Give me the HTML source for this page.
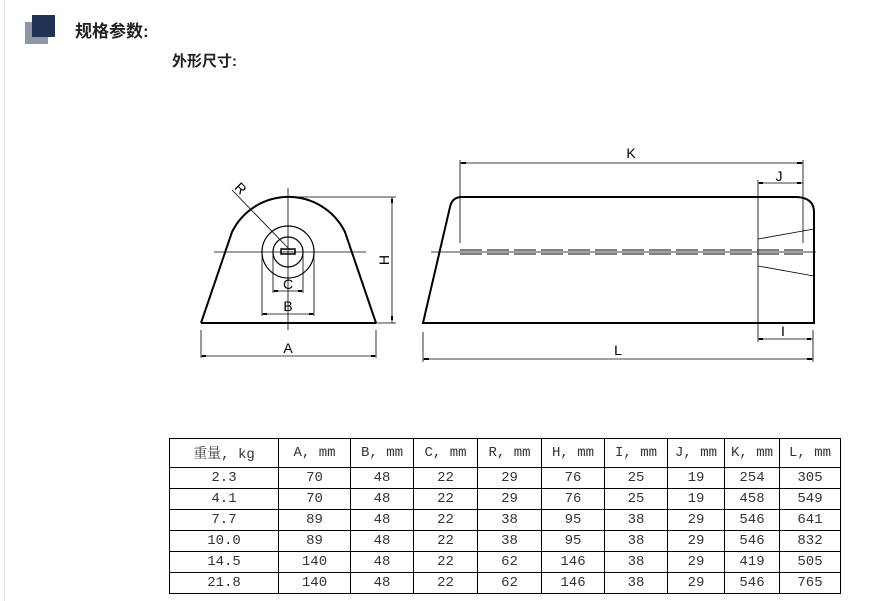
<!DOCTYPE html>
<html><head><meta charset="utf-8"><style>
body{margin:0;background:#fff;width:869px;height:601px;position:relative;overflow:hidden;font-family:"Liberation Sans","Noto Sans CJK SC",sans-serif}
.t{position:absolute;color:#222}
table{position:absolute;left:169px;top:438px;border-collapse:collapse;font-family:"Liberation Mono","Noto Serif CJK SC",monospace;font-size:14px;color:#333}
td{border:1px solid #000;text-align:center;padding:0;height:20px}
tr.h td{height:28px}
</style></head><body>
<div style="position:absolute;left:4px;top:0;width:1px;height:601px;background:#e6e6e6"></div>
<div style="position:absolute;left:25px;top:22px;width:23px;height:22px;background:#8d97a8"></div>
<div style="position:absolute;left:32px;top:15px;width:23px;height:22px;background:#1f3355"></div>
<div class="t" style="left:75px;top:17px;font-size:17px;font-weight:bold">规格参数:</div>
<div class="t" style="left:172px;top:50px;font-size:15px;font-weight:bold">外形尺寸:</div>
<svg width="869" height="601" style="position:absolute;left:0;top:0" font-family="Liberation Sans" font-size="14" fill="none" stroke="#000">
<g stroke-width="2">
<line x1="201" y1="323" x2="376" y2="323"/>
<path d="M201 323 L232 232 A63 63 0 0 1 345 232 L376 323"/>
</g>
<g stroke-width="1.2">
<circle cx="288" cy="252" r="26"/>
<circle cx="288" cy="252" r="15"/>
<rect x="281" y="249" width="14" height="5" stroke-width="1.5"/>
</g>
<g stroke-width="0.8">
<line x1="214" y1="252" x2="366" y2="252"/>
<line x1="288" y1="188" x2="288" y2="330"/>
<line x1="232" y1="190" x2="290" y2="250"/>
<line x1="273" y1="252" x2="273" y2="293"/><line x1="303" y1="252" x2="303" y2="293"/>
<line x1="273" y1="291" x2="303" y2="291"/>
<line x1="262" y1="255" x2="262" y2="316"/><line x1="314" y1="255" x2="314" y2="316"/>
<line x1="262" y1="314" x2="314" y2="314"/>
<line x1="288" y1="197" x2="396" y2="197"/><line x1="376" y1="323" x2="396" y2="323"/>
<line x1="392" y1="197" x2="392" y2="323"/>
<line x1="201" y1="330" x2="201" y2="358"/><line x1="376" y1="330" x2="376" y2="358"/>
<line x1="201" y1="356" x2="376" y2="356"/>
<line x1="460" y1="163" x2="803" y2="163"/>
<line x1="460" y1="160" x2="460" y2="243"/><line x1="803" y1="160" x2="803" y2="243"/>
<line x1="758" y1="183" x2="803" y2="183"/>
<line x1="758" y1="180" x2="758" y2="342"/>
<line x1="758" y1="339" x2="813" y2="339"/>
<line x1="423" y1="332" x2="423" y2="362"/><line x1="813" y1="330" x2="813" y2="362"/>
<line x1="423" y1="359" x2="813" y2="359"/>
<line x1="431" y1="252" x2="816" y2="252"/>
<line x1="758" y1="239" x2="814" y2="229"/><line x1="758" y1="266" x2="814" y2="276"/>
</g>
<g stroke-width="0.9" stroke-dasharray="22,5">
<line x1="460" y1="250" x2="803" y2="250"/><line x1="460" y1="254" x2="803" y2="254"/>
</g>
<g stroke-width="2">
<path d="M423 323 L450 207 Q452 197 462 197 L797 197 Q814 198 814 212 L814 323 Z"/>
</g>
<g fill="#000" stroke="none">
<rect x="274" y="290" width="4" height="2"/><rect x="298" y="290" width="4" height="2"/>
<rect x="263" y="313" width="4" height="2"/><rect x="309" y="313" width="4" height="2"/>
<rect x="391" y="199" width="2" height="4"/><rect x="391" y="316" width="2" height="4"/>
<rect x="202" y="355" width="4" height="2"/><rect x="371" y="355" width="4" height="2"/>
<rect x="461" y="162" width="5" height="2"/><rect x="797" y="162" width="5" height="2"/>
<rect x="759" y="182" width="4" height="2"/><rect x="797" y="182" width="4" height="2"/>
<rect x="759" y="338" width="4" height="2"/><rect x="807" y="338" width="4" height="2"/>
<rect x="424" y="358" width="5" height="2"/><rect x="807" y="358" width="5" height="2"/>
</g>
<g fill="#000" stroke="none" text-anchor="middle">
<text x="288" y="289">C</text><text x="288" y="311">B</text>
<text x="288" y="353">A</text>
<text x="240" y="193" transform="rotate(45 240 189)">R</text>
<text x="384" y="265" transform="rotate(-90 384 260)">H</text>
<text x="631" y="158">K</text><text x="779" y="181">J</text>
<text x="783" y="336">I</text><text x="618" y="355">L</text>
</g>
</svg>
<table>
<colgroup><col style="width:109px"><col style="width:72px"><col style="width:63px"><col style="width:64px"><col style="width:64px"><col style="width:63px"><col style="width:63px"><col style="width:57px"><col style="width:55px"><col style="width:61px"></colgroup>
<tr class="h"><td>重量, kg</td><td>A, mm</td><td>B, mm</td><td>C, mm</td><td>R, mm</td><td>H, mm</td><td>I, mm</td><td>J, mm</td><td>K, mm</td><td>L, mm</td></tr>
<tr><td>2.3</td><td>70</td><td>48</td><td>22</td><td>29</td><td>76</td><td>25</td><td>19</td><td>254</td><td>305</td></tr>
<tr><td>4.1</td><td>70</td><td>48</td><td>22</td><td>29</td><td>76</td><td>25</td><td>19</td><td>458</td><td>549</td></tr>
<tr><td>7.7</td><td>89</td><td>48</td><td>22</td><td>38</td><td>95</td><td>38</td><td>29</td><td>546</td><td>641</td></tr>
<tr><td>10.0</td><td>89</td><td>48</td><td>22</td><td>38</td><td>95</td><td>38</td><td>29</td><td>546</td><td>832</td></tr>
<tr><td>14.5</td><td>140</td><td>48</td><td>22</td><td>62</td><td>146</td><td>38</td><td>29</td><td>419</td><td>505</td></tr>
<tr><td>21.8</td><td>140</td><td>48</td><td>22</td><td>62</td><td>146</td><td>38</td><td>29</td><td>546</td><td>765</td></tr>
</table>
</body></html>
